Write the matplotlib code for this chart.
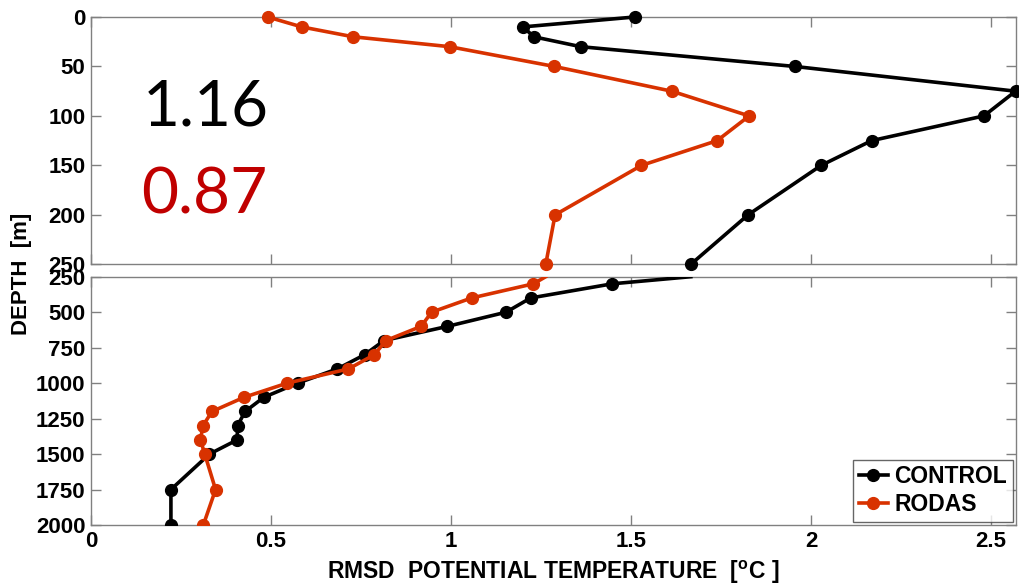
import matplotlib
matplotlib.use("Agg")
import matplotlib.pyplot as plt
import numpy as np

depth = [0, 10, 20, 30, 50, 75, 100, 125, 150, 200, 250, 300, 400, 500, 600, 700,
         800, 900, 1000, 1100, 1200, 1300, 1400, 1500, 1750, 2000]
control = [1.51, 1.20, 1.23, 1.36, 1.955, 2.568, 2.48, 2.168, 2.028, 1.825, 1.666,
           1.448, 1.221, 1.153, 0.990, 0.814, 0.760, 0.684, 0.574, 0.480, 0.428,
           0.407, 0.406, 0.329, 0.222, 0.222]
rodas = [0.491, 0.585, 0.728, 0.996, 1.287, 1.613, 1.828, 1.739, 1.529, 1.289, 1.263,
         1.229, 1.057, 0.946, 0.917, 0.819, 0.787, 0.715, 0.545, 0.425, 0.336,
         0.311, 0.304, 0.316, 0.346, 0.312]
series_names = ["CONTROL", "RODAS"]
top_yticks = [0, 50, 100, 150, 200, 250]
bot_yticks = [250, 500, 750, 1000, 1250, 1500, 1750, 2000]
xticks = [0, 0.5, 1, 1.5, 2, 2.5]
xticklabels = ["0", "0.5", "1", "1.5", "2", "2.5"]
score_control = "1.16"
score_rodas = "0.87"

plt.rcParams['font.family'] = ['Liberation Sans', 'DejaVu Sans']
plt.rcParams['font.weight'] = 'bold'
plt.rcParams['mathtext.fontset'] = 'custom'
plt.rcParams['mathtext.rm'] = 'Liberation Sans:bold'
plt.rcParams['mathtext.bf'] = 'Liberation Sans:bold'

BLACK = '#000000'
RED = '#D83200'
SPINE = '#808080'
FS = 16
FSL = 16.5

fig = plt.figure(figsize=(10.19, 5.84), dpi=100)
ax1 = fig.add_axes([0.0893, 0.5474, 0.9077, 0.4235])
ax2 = fig.add_axes([0.0893, 0.1010, 0.9077, 0.4252])

d = np.array(depth)
c = np.array(control)
r = np.array(rodas)
top = d <= 250
bot = d >= 250

lw = 2.6
ms = 8.5
ax1.plot(c[top], d[top], '-o', color=BLACK, lw=lw, ms=ms, clip_on=False, zorder=3)
ax1.plot(r[top], d[top], '-o', color=RED, lw=lw, ms=ms, clip_on=False, zorder=3)
ax2.plot(c[bot], d[bot], '-o', color=BLACK, lw=lw, ms=ms, markevery=slice(1, None),
         label=series_names[0], zorder=3)
ax2.plot(r[bot], d[bot], '-o', color=RED, lw=lw, ms=ms, markevery=slice(1, None),
         label=series_names[1], zorder=3)

xmax = 2.569
ax1.set_xlim(0, xmax)
ax2.set_xlim(0, xmax)
ax1.set_ylim(250, 0)
ax2.set_ylim(2000, 250)
ax1.set_yticks(top_yticks)
ax2.set_yticks(bot_yticks)
for ax in (ax1, ax2):
    ax.set_xticks(xticks)
    ax.tick_params(direction='in', top=True, right=True, length=7, width=1,
                   color=SPINE, labelsize=FS, pad=4)
    for s in ax.spines.values():
        s.set_color(SPINE)
        s.set_linewidth(1.0)
    for lab in ax.get_yticklabels():
        lab.set_fontweight('bold')
ax1.tick_params(labelbottom=False)
ax2.set_xticklabels(xticklabels, fontsize=FS, fontweight='bold')

ax2.set_xlabel(r"RMSD  POTENTIAL TEMPERATURE  [$^{\mathrm{o}}$C ]", fontsize=FSL,
               fontweight='bold', labelpad=5)
fig.text(22 / 1019, 1 - 274 / 584, "DEPTH  [m]", rotation=90, fontsize=FS,
         fontweight='bold', ha='center', va='center')

ax1.text(143 / 1019, 1 - 126 / 584, score_control, transform=fig.transFigure,
         fontsize=46, color=BLACK, family='Lato', fontweight='normal',
         ha='left', va='baseline')
ax1.text(141 / 1019, 1 - 214 / 584, score_rodas, transform=fig.transFigure,
         fontsize=46, color='#C00000', family='Lato', fontweight='normal',
         ha='left', va='baseline')

leg = ax2.legend(loc='lower right', frameon=True, fancybox=False,
                 borderpad=0.25, handlelength=1.3, handletextpad=0.25,
                 labelspacing=0.2, borderaxespad=0.15, markerscale=1.0,
                 prop={'weight': 'bold', 'size': FSL})
leg.get_frame().set_edgecolor('#404040')
leg.get_frame().set_linewidth(1.0)

fig.savefig('out.png', dpi=100)
